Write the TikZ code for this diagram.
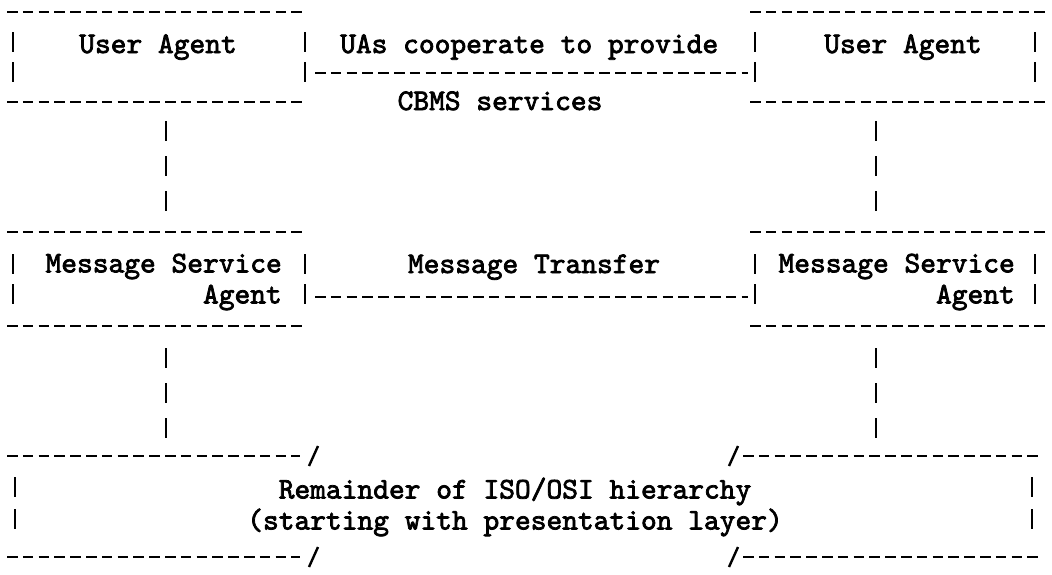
\documentclass[tikz,border=0pt]{standalone}
\usepackage{fontspec}
\newfontfamily\scanmono{lmmono10-regular.otf}[FakeBold=2.5]
\usetikzlibrary{positioning}
\tikzset{
  tt/.style={font=\fontsize{30}{31}\selectfont\scanmono, inner sep=0pt},
  rule/.style={line width=2.6pt, dash pattern=on 10.5pt off 5.3pt},
  bar/.style={line width=2.4pt},
  link/.style={line width=2.4pt, dash pattern=on 20pt off 15pt},
}
\begin{document}
\begin{tikzpicture}[x=1pt,y=-1pt]
  \useasboundingbox (0,0) rectangle (1052,574);
  % labels
  \draw
    (158,53) node[tt,anchor=base] (uaL){User Agent}
    (903,53) node[tt,anchor=base] (uaR){User Agent}
    (340,53) node[tt,anchor=base west] (coop){UAs cooperate to provide}
    (500,110) node[tt,anchor=base] (cbms){CBMS services}
    (282,282) node[tt,anchor=east,align=right] (msaL){Message Service\\Agent}
    (1015,282) node[tt,anchor=east,align=right] (msaR){Message Service\\Agent}
    (534,273) node[tt,anchor=base] (mt){Message Transfer}
    (515,507) node[tt,align=center] (rem){Remainder of ISO/OSI hierarchy\\(starting with presentation layer)};
  % upper boxes
  \foreach \y in {12,102,232,326}{
    \draw[rule] (7,\y) -- (307,\y);
    \draw[rule] (750,\y) -- (1045,\y);
  }
  \foreach \y in {42,72,264,294}
    \foreach \x in {13,305,755,1035}
      \draw[bar] (\x,\y-10) -- (\x,\y+10);
  % lower box
  \foreach \y in {456,557}{
    \draw[rule] (7,\y) -- (300,\y);
    \draw[rule] (743,\y) -- (1040,\y);
    \draw[bar] (309,\y+10) -- (318,\y-10);
    \draw[bar] (729,\y+10) -- (738,\y-10);
  }
  \foreach \y in {487,519}
    \foreach \x in {15,1032}
      \draw[bar] (\x,\y-10) -- (\x,\y+10);
  % peer links
  \coordinate (uaLe) at (315,73);   \coordinate (uaRw) at (748,73);
  \coordinate (msaLe) at (315,297); \coordinate (msaRw) at (748,297);
  \draw[rule] (uaLe) -- (uaRw);
  \draw[rule] (msaLe) -- (msaRw);
  % layer links
  \coordinate (uaLs) at (166,121);  \coordinate (msaLn) at (166,211);
  \coordinate (uaRs) at (876,121);  \coordinate (msaRn) at (876,211);
  \coordinate (msaLs) at (166,348); \coordinate (remLn) at (166,438);
  \coordinate (msaRs) at (876,348); \coordinate (remRn) at (876,438);
  \begin{scope}[link]
    \draw (uaLs) -- (msaLn);
    \draw (uaRs) -- (msaRn);
    \draw (msaLs) -- (remLn);
    \draw (msaRs) -- (remRn);
  \end{scope}
\end{tikzpicture}
\end{document}
